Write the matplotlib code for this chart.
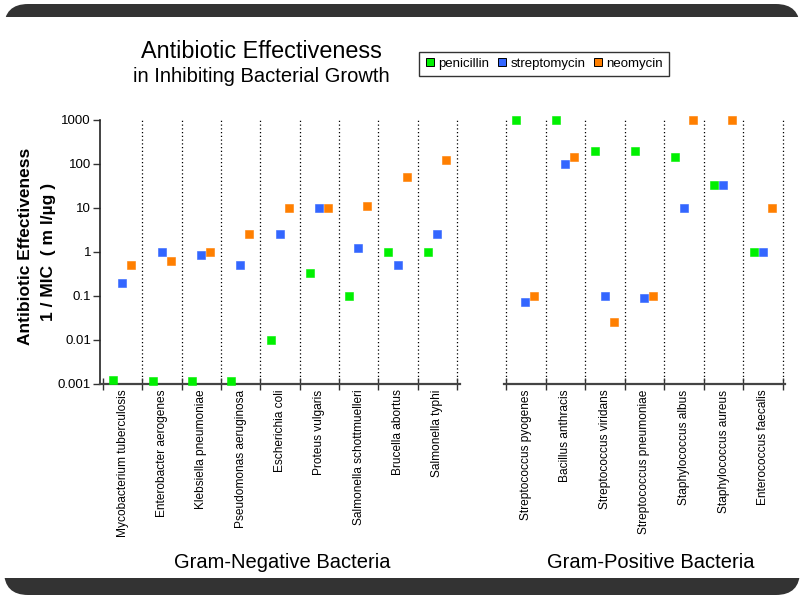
import matplotlib
matplotlib.use("Agg")
import matplotlib.pyplot as plt
from matplotlib.patches import FancyBboxPatch, Rectangle
from matplotlib.lines import Line2D

plt.rcParams['font.family'] = ['Liberation Sans', 'DejaVu Sans']

# ---------------- data ----------------
neg_bacteria = ["Mycobacterium tuberculosis", "Enterobacter aerogenes", "Klebsiella pneumoniae",
                "Pseudomonas aeruginosa", "Escherichia coli", "Proteus vulgaris",
                "Salmonella schottmuelleri", "Brucella abortus", "Salmonella typhi"]
neg_penicillin = [0.00125, 0.00115, 0.00118, 0.00118, 0.01, 0.333, 0.1, 1.0, 1.0]
neg_streptomycin = [0.2, 1.0, 0.833, 0.5, 2.5, 10.0, 1.25, 0.5, 2.5]
neg_neomycin = [0.5, 0.625, 1.0, 2.5, 10.0, 10.0, 11.1, 50.0, 125.0]

pos_bacteria = ["Streptococcus pyogenes", "Bacillus anthracis", "Streptococcus viridans",
                "Streptococcus pneumoniae", "Staphylococcus albus", "Staphylococcus aureus",
                "Enterococcus faecalis"]
pos_penicillin = [1000.0, 1000.0, 200.0, 200.0, 143.0, 33.3, 1.0]
pos_streptomycin = [0.0714, 100.0, 0.1, 0.0909, 10.0, 33.3, 1.0]
pos_neomycin = [0.1, 143.0, 0.025, 0.1, 1000.0, 1000.0, 10.0]

series_names = ["penicillin", "streptomycin", "neomycin"]
ytick_values = [0.001, 0.01, 0.1, 1, 10, 100, 1000]
ytick_labels = ["0.001", "0.01", "0.1", "1", "10", "100", "1000"]
group_titles = ["Gram-Negative Bacteria", "Gram-Positive Bacteria"]

# ---------------- style ----------------
colors = ["#00F000", "#3366FF", "#FF7F00"]
offsets = [0.26, 0.49, 0.72]
W, H = 803, 597
fig = plt.figure(figsize=(W / 100, H / 100), dpi=100)
fig.patch.set_facecolor("white")

def fx(px):
    return px / W

def fy(py):
    return 1 - py / H

# dark rounded frame with white interior band
frame = FancyBboxPatch((fx(4), fy(595)), fx(796), (591) / H,
                       boxstyle="round,pad=0,rounding_size=0.03",
                       transform=fig.transFigure, facecolor="#333333",
                       edgecolor="none", zorder=-3, mutation_aspect=W / H)
fig.patches.append(frame)
fig.patches.append(Rectangle((0, fy(578)), 1, (578 - 17) / H, transform=fig.transFigure,
                             facecolor="white", edgecolor="none", zorder=-2))

ax_bottom = fy(384)
ax_height = (384 - 120) / H
axL = fig.add_axes([fx(100), ax_bottom, fx(360), ax_height])
axR = fig.add_axes([fx(504), ax_bottom, fx(281), ax_height])
for a in (axL, axR):
    a.set_zorder(2)
    a.patch.set_alpha(0)


def draw_panel(ax, names, series, xlim, first_dotted, show_y):
    n = len(names)
    ax.set_yscale("log")
    ax.set_ylim(0.001, 1000)
    ax.set_xlim(*xlim)
    for s_i, vals in enumerate(series):
        xs = [i + offsets[s_i] for i in range(n)]
        ax.plot(xs, vals, linestyle="none", marker="s", ms=5.4, color=colors[s_i],
                mec=colors[s_i], mew=0.4, zorder=3, clip_on=False)
    for b in range(first_dotted, n + 1):
        ax.axvline(b, color="black", lw=0.9, linestyle=(0, (1, 2)), zorder=1)
    for sp in ["top", "right"]:
        ax.spines[sp].set_visible(False)
    ax.spines["bottom"].set_color("#444444")
    ax.spines["bottom"].set_linewidth(1.6)
    ax.set_xticks(list(range(n + 1)))
    ax.set_xticklabels([])
    ax.tick_params(axis="x", which="major", direction="inout", length=8, width=1, color="#333333")
    ax.set_xticks([i + 0.5 for i in range(n)], minor=True)
    ax.set_xticklabels(names, minor=True, rotation=90, fontsize=8.6, va="top")
    ax.tick_params(axis="x", which="minor", length=0, pad=4)
    ax.yaxis.set_minor_locator(matplotlib.ticker.NullLocator())
    if show_y:
        ax.spines["left"].set_color("#222222")
        ax.spines["left"].set_linewidth(1.2)
        ax.set_yticks(ytick_values)
        ax.set_yticklabels(ytick_labels, fontsize=9.5)
        ax.tick_params(axis="y", direction="out", length=5, width=1, pad=1.5, color="#333333")
    else:
        ax.spines["left"].set_visible(False)
        ax.set_yticks([])


draw_panel(axL, neg_bacteria, [neg_penicillin, neg_streptomycin, neg_neomycin],
           (-0.08, 9.08), 1, True)
draw_panel(axR, pos_bacteria, [pos_penicillin, pos_streptomycin, pos_neomycin],
           (-0.05, 7.05), 0, False)

# y label
fig.text(fx(26), fy(246), "Antibiotic Effectiveness", rotation=90, ha="center", va="center",
         fontsize=12.5, fontweight="bold")
fig.text(fx(49), fy(252), "1 / MIC  ( m l/µg )", rotation=90, ha="center", va="center",
         fontsize=12.5, fontweight="bold")

# title
fig.text(fx(261), fy(51), "Antibiotic Effectiveness", ha="center", va="center", fontsize=16.8)
fig.text(fx(261), fy(76), "in Inhibiting Bacterial Growth", ha="center", va="center", fontsize=14.5)

# group titles
fig.text(fx(282), fy(562), group_titles[0], ha="center", va="center", fontsize=14.5)
fig.text(fx(651), fy(562), group_titles[1], ha="center", va="center", fontsize=14.5)

# legend
handles = [Line2D([], [], linestyle="none", marker="s", ms=6, color=c, mec="black", mew=0.7)
           for c in colors]
leg = fig.legend(handles, series_names, loc="center", bbox_to_anchor=(fx(544), fy(64)),
                 ncol=3, fontsize=9.5, frameon=True, fancybox=False, edgecolor="black",
                 handlelength=0.7, handletextpad=0.3, columnspacing=0.6, borderpad=0.45,
                 borderaxespad=0)
leg.get_frame().set_linewidth(1.0)

fig.savefig("out.png", dpi=100, facecolor=fig.get_facecolor())
